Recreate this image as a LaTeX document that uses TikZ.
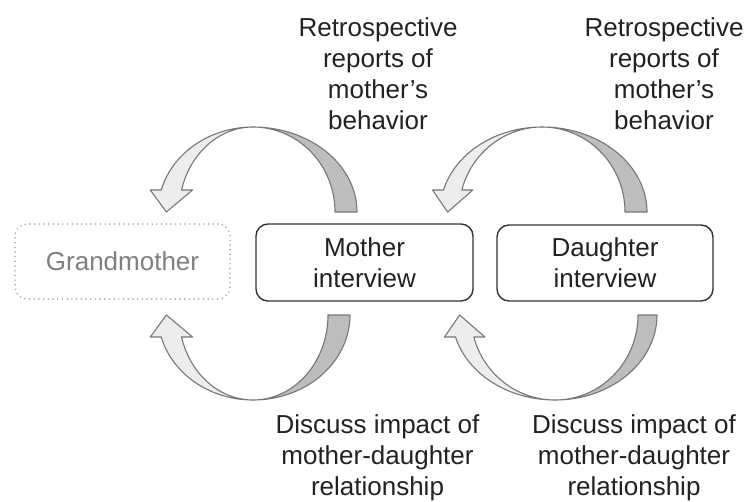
\documentclass[tikz,border=0pt]{standalone}
\usepackage{fontspec}
\setmainfont{Liberation Sans}
\definecolor{txt}{HTML}{222222}
\definecolor{boxline}{HTML}{333333}
\definecolor{gmline}{HTML}{A0A0A0}
\definecolor{gmtext}{HTML}{7F7F7F}
\definecolor{arrline}{HTML}{777777}
\definecolor{darkband}{HTML}{BDBDBD}
\definecolor{lightband}{HTML}{EDEDED}
\tikzset{
  lbl/.style={align=center, font=\fontsize{26}{31}\selectfont, text=txt, inner sep=0pt},
  ibox/.style={draw=boxline, line width=1.4pt, rounded corners=12pt, align=center,
     font=\fontsize{26}{31}\selectfont, text=txt, inner sep=0pt},
  gbox/.style={draw=gmline, line width=1.6pt, dash pattern=on 0.1pt off 4.6pt, line cap=round,
     rounded corners=12pt, font=\fontsize{26}{31}\selectfont, text=gmtext, inner sep=0pt},
  backband/.style={fill=darkband, draw=arrline, line width=1.1pt, line join=round},
  frontband/.style={fill=lightband, draw=arrline, line width=1.1pt, line join=round},
}
% #1 cx, #2 yb, #3 s (1 up, -1 down), #4 ao, #5 ai, #6 lo, #7 li
\newcommand{\mycarrow}[7]{%
  \filldraw[backband] plot[domain=0:90,samples=40] ({#1+#4*cos(\x)},{#2-(#3)*85*sin(\x)})
    -- plot[domain=90:0,samples=40] ({#1+#5*cos(\x)},{#2-(#3)*85*sin(\x)}) -- cycle;
  \filldraw[frontband] plot[domain=90:165,samples=40] ({#1+#6*cos(\x)},{#2-(#3)*85*sin(\x)})
    -- ({#1-0.9659*#6-11},{#2-(#3)*22})
    -- ({#1-0.9659*(#6+#7)/2-5},{#2})
    -- ({#1-0.9659*#7+11},{#2-(#3)*22})
    -- plot[domain=165:90,samples=40] ({#1+#7*cos(\x)},{#2-(#3)*85*sin(\x)}) -- cycle;
}
\begin{document}
\begin{tikzpicture}[x=1pt,y=-1pt]
\useasboundingbox[fill=white] (0,0) rectangle (749,501);

% boxes
\node[gbox, minimum width=215pt, minimum height=75pt] (gm) at (122.5,261.5) {Grandmother};
\node[ibox, minimum width=217pt, minimum height=77pt] (mo) at (364.5,262.5) {Mother\\interview};
\node[ibox, minimum width=216pt, minimum height=76pt] (da) at (605,263) {Daughter\\interview};

% curved arrows
\mycarrow{253}{212}{1}{104}{82}{95}{74}
\mycarrow{542}{212}{1}{105}{83}{102}{83}
\mycarrow{253}{315}{-1}{97}{75}{95}{74}
\mycarrow{555}{315}{-1}{102}{83}{103}{84}

% labels
\node[lbl] (r1) at (378,74) {Retrospective\\reports of\\mother’s\\behavior};
\node[lbl] (r2) at (664,74) {Retrospective\\reports of\\mother’s\\behavior};
\node[lbl] (d1) at (377.5,458) {Discuss impact of\\mother-daughter\\relationship};
\node[lbl] (d2) at (634,458) {Discuss impact of\\mother-daughter\\relationship};
\end{tikzpicture}
\end{document}
